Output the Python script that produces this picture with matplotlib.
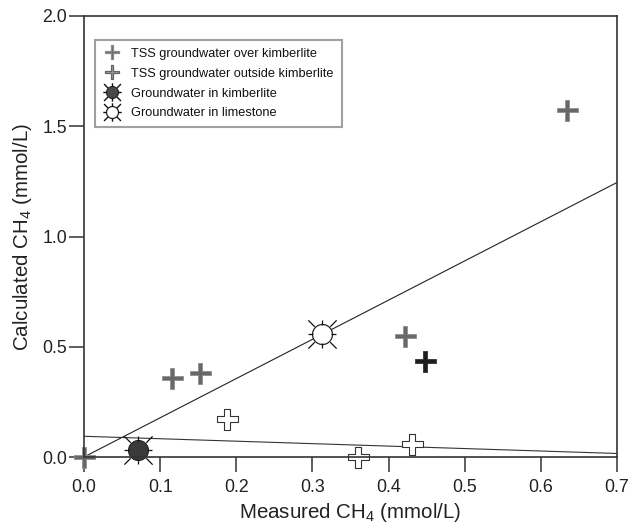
import numpy as np
import matplotlib
matplotlib.use("Agg")
import matplotlib.pyplot as plt
from matplotlib.path import Path
from matplotlib.lines import Line2D

plt.rcParams['font.family'] = ['Liberation Sans', 'DejaVu Sans']
plt.rcParams['mathtext.fontset'] = 'custom'
plt.rcParams['mathtext.rm'] = 'Liberation Sans'
plt.rcParams['mathtext.it'] = 'Liberation Sans:italic'

# ---------------- data ----------------
over_x = [0.0, 0.115, 0.153, 0.422, 0.634]
over_y = [0.0, 0.36, 0.38, 0.549, 1.574]

outside_x = [0.188, 0.360, 0.431]
outside_y = [0.171, 0.0, 0.059]

black_x = [0.448]
black_y = [0.435]

kimb_x = [0.0705]
kimb_y = [0.032]

lime_x = [0.3126]
lime_y = [0.558]

fit1_x = [0.0, 0.7]
fit1_y = [0.0, 1.245]
fit2_x = [0.0, 0.7]
fit2_y = [0.094, 0.016]

xticks = [0.0, 0.1, 0.2, 0.3, 0.4, 0.5, 0.6, 0.7]
xticklabels = ["0.0", "0.1", "0.2", "0.3", "0.4", "0.5", "0.6", "0.7"]
yticks = [0.0, 0.5, 1.0, 1.5, 2.0]
yticklabels = ["0.0", "0.5", "1.0", "1.5", "2.0"]

legend_labels = ["TSS groundwater over kimberlite",
                 "TSS groundwater outside kimberlite",
                 "Groundwater in kimberlite",
                 "Groundwater in limestone"]

# ---------------- markers ----------------
def cross_path(a):
    v = [(-a, 1), (a, 1), (a, a), (1, a), (1, -a), (a, -a), (a, -1), (-a, -1),
         (-a, -a), (-1, -a), (-1, a), (-a, a), (-a, 1)]
    codes = [Path.MOVETO] + [Path.LINETO] * 11 + [Path.CLOSEPOLY]
    return Path(v, codes)

def rays_path(r_d0, r_d1, r_o0, r_o1):
    verts, codes = [], []
    for k in range(8):
        ang = k * np.pi / 4
        if k % 2 == 0:
            r0, r1 = r_o0, r_o1
        else:
            r0, r1 = r_d0, r_d1
        verts += [(r0 * np.cos(ang), r0 * np.sin(ang)), (r1 * np.cos(ang), r1 * np.sin(ang))]
        codes += [Path.MOVETO, Path.LINETO]
    return Path(verts, codes)

PX = 0.72  # points per pixel at dpi 100
cross_thick = cross_path(0.21)
cross_open = cross_path(0.25)
rays = rays_path(11, 20, 9, 14)
rays_ms = 2 * 20 / np.sqrt(2) * PX

fig = plt.figure(figsize=(6.32, 5.30), dpi=100)
ax = fig.add_axes([84 / 632, (530 - 457) / 530, 533 / 632, 441 / 530])

ax.plot(fit1_x, fit1_y, color='#222222', lw=0.8, zorder=1.5)
ax.plot(fit2_x, fit2_y, color='#333333', lw=0.8, zorder=1.5)

ax.plot(over_x, over_y, ls='none', marker=cross_thick, ms=21 * PX,
        mfc='#686868', mec='#909090', mew=0.6, zorder=2, clip_on=False)
ax.plot(outside_x, outside_y, ls='none', marker=cross_open, ms=21 * PX,
        mfc='white', mec='#333333', mew=0.8, zorder=2, clip_on=False)
ax.plot(black_x, black_y, ls='none', marker=cross_thick, ms=21 * PX,
        mfc='#1e1e1e', mec='#1e1e1e', mew=0.5, zorder=2, clip_on=False)

ax.plot(kimb_x, kimb_y, ls='none', marker='o', ms=20 * PX,
        mfc='#3a3a3a', mec='#222222', mew=0.8, zorder=2, clip_on=False)
ax.plot(kimb_x, kimb_y, ls='none', marker=rays, ms=rays_ms,
        mec='#111111', mew=0.9, zorder=2, clip_on=False)
ax.plot(lime_x, lime_y, ls='none', marker='o', ms=20 * PX,
        mfc='white', mec='#222222', mew=0.9, zorder=2, clip_on=False)
ax.plot(lime_x, lime_y, ls='none', marker=rays, ms=rays_ms,
        mec='#111111', mew=0.9, zorder=2, clip_on=False)

ax.set_xlim(0, 0.7)
ax.set_ylim(0, 2.0)
ax.set_xticks(xticks)
ax.set_xticklabels(xticklabels)
ax.set_yticks(yticks)
ax.set_yticklabels(yticklabels)

for s in ax.spines.values():
    s.set_color('#333333')
    s.set_linewidth(1.2)
    s.set_zorder(2.5)

ax.tick_params(axis='x', direction='out', length=10.5, width=1.1, color='#333333',
               labelsize=12.8, labelcolor='#222222', pad=5)
ax.tick_params(axis='y', direction='out', length=10.5, width=1.1, color='#333333',
               labelsize=12.8, labelcolor='#222222', pad=1.5)

ax.set_xlabel("Measured CH$_4$ (mmol/L)", fontsize=14.8, color='#222222', labelpad=4)
ax.set_ylabel("Calculated CH$_4$ (mmol/L)", fontsize=14.8, color='#222222', labelpad=6)

# legend proxies
h1 = Line2D([], [], ls='none', marker=cross_thick, ms=14 * PX, mfc='#666666', mec='#8c8c8c', mew=0.9)
h2 = Line2D([], [], ls='none', marker=cross_thick, ms=14 * PX, mfc='#9a9a9a', mec='#666666', mew=0.9)
lr = rays_path(7, 13, 6, 10)
lr_ms = 2 * 13 / np.sqrt(2) * PX
h3a = Line2D([], [], ls='none', marker='o', ms=12 * PX, mfc='#4a4a4a', mec='#222222', mew=0.8)
h3b = Line2D([], [], ls='none', marker=lr, ms=lr_ms, mec='#111111', mew=1.0)
h4a = Line2D([], [], ls='none', marker='o', ms=12 * PX, mfc='white', mec='#222222', mew=0.9)
h4b = Line2D([], [], ls='none', marker=lr, ms=lr_ms, mec='#111111', mew=1.0)

leg = ax.legend([h1, h2, (h3a, h3b), (h4a, h4b)], legend_labels,
                loc='upper left', bbox_to_anchor=((95 - 84) / 533, (457 - 40) / 441),
                borderaxespad=0, fontsize=9.2, frameon=True, fancybox=False,
                handlelength=1.5, handletextpad=0.75, labelspacing=0.62,
                borderpad=0.6)
leg.get_frame().set_edgecolor('#888888')
leg.get_frame().set_linewidth(1.5)
for t in leg.get_texts():
    t.set_color('#111111')

fig.savefig("out.png", dpi=100)
